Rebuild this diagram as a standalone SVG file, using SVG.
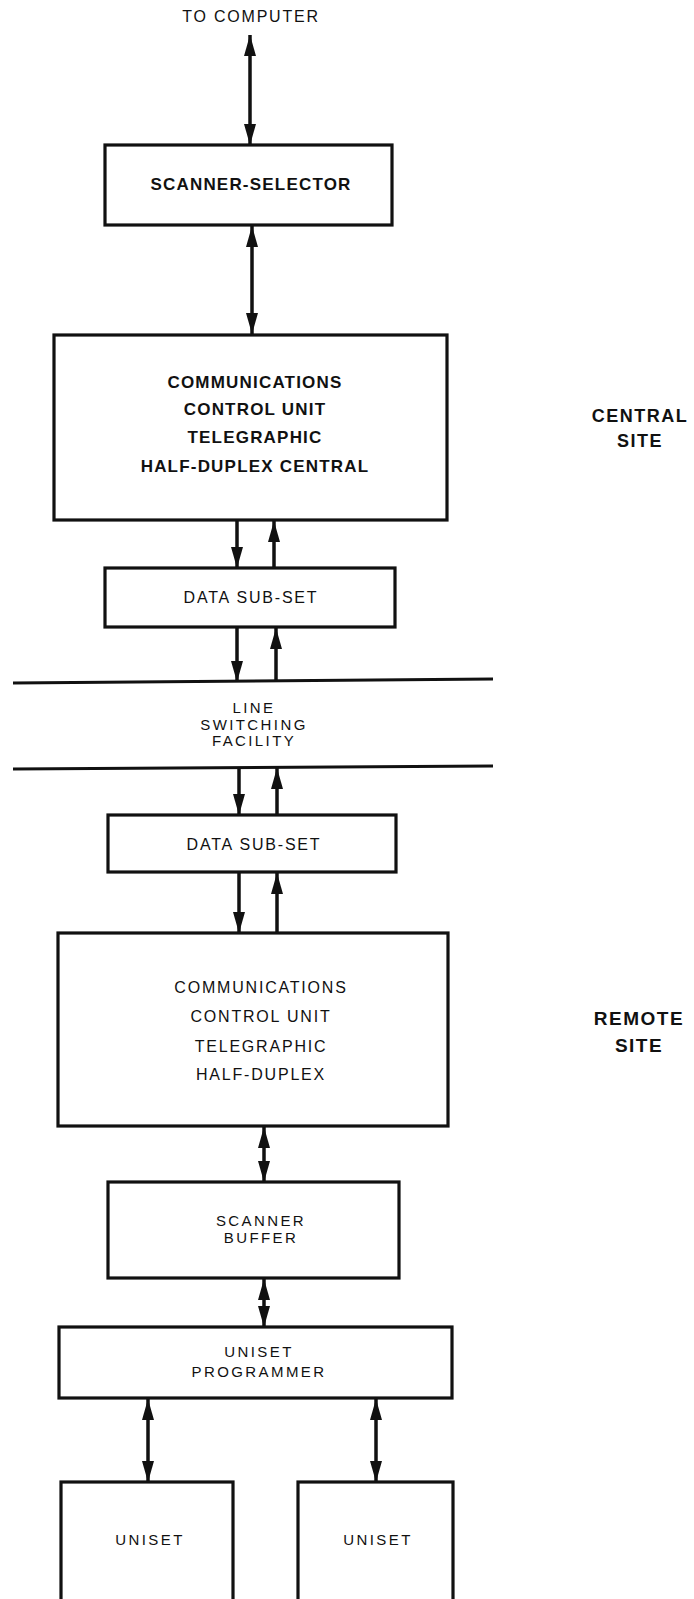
<svg xmlns="http://www.w3.org/2000/svg" width="694" height="1599" viewBox="0 0 694 1599">
<style>
.box{fill:#fff;stroke:#111;stroke-width:3.2}
.ln{stroke:#111;stroke-width:3.5;fill:none}
.t{font-family:"Liberation Sans",Arial,sans-serif;fill:#111;text-anchor:middle}
.r16{font-size:16px;letter-spacing:1.8px}
.r15{font-size:15px;letter-spacing:2.4px}
.b17{font-size:17px;font-weight:bold;letter-spacing:1.2px}
.b18{font-size:18px;font-weight:bold;letter-spacing:1.5px}
</style>
<defs>
<marker id="ah" markerUnits="userSpaceOnUse" viewBox="0 0 21 12" refX="21" refY="6" markerWidth="21" markerHeight="12" orient="auto-start-reverse">
<path d="M0,0 L21,6 L0,12 z" fill="#111"/>
</marker>
</defs>
<rect width="694" height="1599" fill="#fff"/>
<g id="connectors">
<line class="ln" x1="250" y1="35" x2="250" y2="145" marker-start="url(#ah)" marker-end="url(#ah)"/>
<line class="ln" x1="252" y1="226" x2="252" y2="334" marker-start="url(#ah)" marker-end="url(#ah)"/>
<line class="ln" x1="237" y1="521" x2="237" y2="568" marker-end="url(#ah)"/>
<line class="ln" x1="274" y1="568" x2="274" y2="521" marker-end="url(#ah)"/>
<line class="ln" x1="237" y1="628" x2="237" y2="682" marker-end="url(#ah)"/>
<line class="ln" x1="276" y1="681" x2="276" y2="628" marker-end="url(#ah)"/>
<line class="ln" x1="239" y1="768" x2="239" y2="815" marker-end="url(#ah)"/>
<line class="ln" x1="277" y1="815" x2="277" y2="768" marker-end="url(#ah)"/>
<line class="ln" x1="239" y1="873" x2="239" y2="933" marker-end="url(#ah)"/>
<line class="ln" x1="277" y1="933" x2="277" y2="873" marker-end="url(#ah)"/>
<line class="ln" x1="264" y1="1127" x2="264" y2="1182" marker-start="url(#ah)" marker-end="url(#ah)"/>
<line class="ln" x1="264" y1="1279" x2="264" y2="1327" marker-start="url(#ah)" marker-end="url(#ah)"/>
<line class="ln" x1="148" y1="1399" x2="148" y2="1482" marker-start="url(#ah)" marker-end="url(#ah)"/>
<line class="ln" x1="376" y1="1399" x2="376" y2="1482" marker-start="url(#ah)" marker-end="url(#ah)"/>
</g>
<g id="line-switching-facility">
<line x1="13" y1="683" x2="493" y2="679" stroke="#111" stroke-width="3"/>
<line x1="13" y1="769" x2="493" y2="766" stroke="#111" stroke-width="3"/>
<text class="t r15" x="254" y="713">LINE</text>
<text class="t r15" x="254" y="730">SWITCHING</text>
<text class="t r15" x="254" y="746">FACILITY</text>
</g>
<g id="to-computer">
<text class="t r16" x="251" y="22">TO COMPUTER</text>
</g>
<g id="scanner-selector">
<rect class="box" x="105" y="145" width="287" height="80"/>
<text class="t b17" x="251" y="190">SCANNER-SELECTOR</text>
</g>
<g id="ccu-central">
<rect class="box" x="54" y="335" width="393" height="185"/>
<text class="t b17" x="255" y="388">COMMUNICATIONS</text>
<text class="t b17" x="255" y="415">CONTROL UNIT</text>
<text class="t b17" x="255" y="443">TELEGRAPHIC</text>
<text class="t b17" x="255" y="472">HALF-DUPLEX CENTRAL</text>
</g>
<g id="data-subset-central">
<rect class="box" x="105" y="568" width="290" height="59"/>
<text class="t r16" x="251" y="603">DATA SUB-SET</text>
</g>
<g id="central-site">
<text class="t b18" x="640" y="422">CENTRAL</text>
<text class="t b18" x="640" y="447">SITE</text>
</g>
<g id="data-subset-remote">
<rect class="box" x="108" y="815" width="288" height="57"/>
<text class="t r16" x="254" y="850">DATA SUB-SET</text>
</g>
<g id="ccu-remote">
<rect class="box" x="58" y="933" width="390" height="193"/>
<text class="t r16" x="261" y="993">COMMUNICATIONS</text>
<text class="t r16" x="261" y="1022">CONTROL UNIT</text>
<text class="t r16" x="261" y="1052">TELEGRAPHIC</text>
<text class="t r16" x="261" y="1080">HALF-DUPLEX</text>
</g>
<g id="remote-site">
<text class="t b18" x="639" y="1025" style="font-size:19px">REMOTE</text>
<text class="t b18" x="639" y="1052" style="font-size:19px">SITE</text>
</g>
<g id="scanner-buffer">
<rect class="box" x="108" y="1182" width="291" height="96"/>
<text class="t r15" x="261" y="1226">SCANNER</text>
<text class="t r15" x="261" y="1243">BUFFER</text>
</g>
<g id="uniset-programmer">
<rect class="box" x="59" y="1327" width="393" height="71"/>
<text class="t r15" x="259" y="1357">UNISET</text>
<text class="t r15" x="259" y="1377">PROGRAMMER</text>
</g>
<g id="uniset-1">
<rect class="box" x="61" y="1482" width="172" height="130"/>
<text class="t r15" x="150" y="1545">UNISET</text>
</g>
<g id="uniset-2">
<rect class="box" x="298" y="1482" width="155" height="130"/>
<text class="t r15" x="378" y="1545">UNISET</text>
</g>
</svg>
